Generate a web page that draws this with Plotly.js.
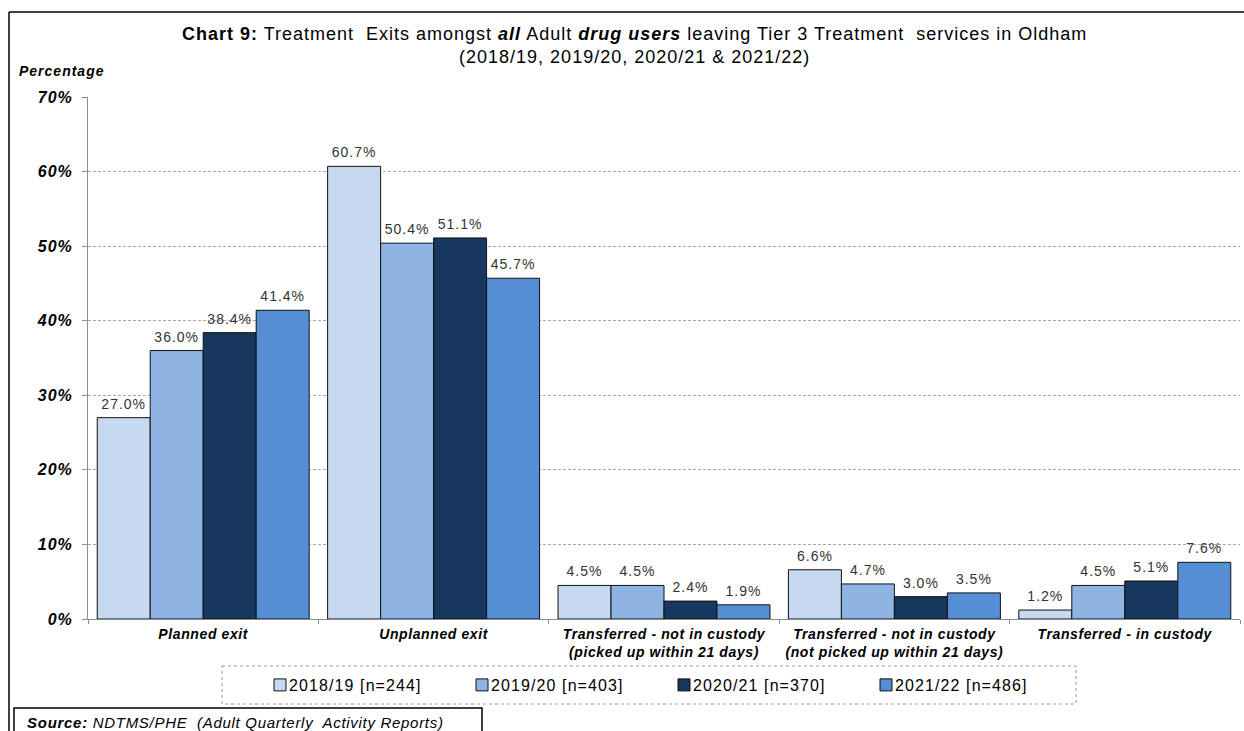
<!DOCTYPE html>
<html>
<head>
<meta charset="utf-8">
<script src="https://cdn.plot.ly/plotly-3.0.1.min.js"></script>
<style>
  html, body { margin: 0; padding: 0; background: #ffffff; overflow: hidden; }
  #chart { width: 1244px; height: 731px; }
  /* slightly wider letter spacing for the chart's text */
  .annotation-text { letter-spacing: 1px; }
  g.annotation[data-index="2"] .annotation-text { letter-spacing: 0.7px; }
  .legendtext { letter-spacing: 1.1px; }
  .ytick text { letter-spacing: 1px; }
  .xtick text { letter-spacing: 0.6px; }
  .bartext { letter-spacing: 1px; }
  .trace.bars g.point text { translate: 0px -3px; }
  /* legend swatches sit close to their labels */
  .legendpoints { translate: 11px 0; }
</style>
</head>
<body>
<div id="chart"></div>
<script>
// Exit reasons (x categories)
const categories = [
  "Planned exit",
  "Unplanned exit",
  "Transferred - not in custody<br>(picked up within 21 days)",
  "Transferred - not in custody<br>(not picked up within 21 days)",
  "Transferred - in custody"
];

// Percentage of adult drug users leaving treatment, by year
const seriesNames = ["2018/19 [n=244]", "2019/20 [n=403]", "2020/21 [n=370]", "2021/22 [n=486]"];
const values2018 = [27.0, 60.7, 4.5, 6.6, 1.2];
const values2019 = [36.0, 50.4, 4.5, 4.7, 4.5];
const values2020 = [38.4, 51.1, 2.4, 3.0, 5.1];
const values2021 = [41.4, 45.7, 1.9, 3.5, 7.6];
const seriesValues = [values2018, values2019, values2020, values2021];

const yTickValues = [0, 10, 20, 30, 40, 50, 60, 70];

const colors = ["#C6D9F1", "#8DB4E2", "#17375E", "#558ED5"];
const FONT = "Liberation Sans, Arial, sans-serif";

// Plot area in page pixels
const L = 88, R = 1240, T = 97, B = 619;
const px = x => (x - L) / (R - L);
const py = y => (B - y) / (B - T);

const traces = seriesValues.map((vals, i) => ({
  type: "bar",
  name: seriesNames[i],
  x: categories,
  y: vals,
  marker: { color: colors[i], line: { color: "#111111", width: 1 } },
  text: vals.map(v => v.toFixed(1) + "%"),
  textposition: "outside",
  textfont: { family: FONT, size: 14, color: "#333333" },
  cliponaxis: false,
  hoverinfo: "skip"
}));

const layout = {
  width: 1244,
  height: 731,
  paper_bgcolor: "#ffffff",
  plot_bgcolor: "#ffffff",
  margin: { l: L, r: 1244 - R, t: T, b: 731 - B, pad: 0, autoexpand: false },
  font: { family: FONT, color: "#000000" },
  barmode: "group",
  bargap: 0.08,
  bargroupgap: 0,
  showlegend: true,
  legend: {
    orientation: "h",
    x: px(249),
    xanchor: "left",
    y: py(685),
    yanchor: "middle",
    entrywidth: 157,
    entrywidthmode: "pixels",
    font: { family: FONT, size: 16, color: "#000000" },
    bgcolor: "rgba(0,0,0,0)",
    borderwidth: 0,
    traceorder: "normal"
  },
  xaxis: {
    type: "category",
    showgrid: false,
    showline: true,
    linecolor: "#8c8c8c",
    linewidth: 1,
    ticks: "outside",
    tickson: "boundaries",
    ticklen: 4,
    tickcolor: "#8c8c8c",
    ticklabelstandoff: 2,
    tickfont: { family: FONT, size: 14, weight: "bold", style: "italic", color: "#000000" },
    fixedrange: true
  },
  yaxis: {
    range: [0, 70],
    tickvals: yTickValues,
    ticktext: yTickValues.map(v => v + "%"),
    showgrid: true,
    gridcolor: "#a6a6a6",
    griddash: "3px,2px",
    gridwidth: 1,
    showline: true,
    linecolor: "#8c8c8c",
    linewidth: 1,
    ticks: "outside",
    ticklen: 5,
    tickcolor: "#8c8c8c",
    ticklabelstandoff: 6,
    zeroline: false,
    tickfont: { family: FONT, size: 16, weight: "bold", style: "italic", color: "#000000" },
    fixedrange: true
  },
  annotations: [
    {
      xref: "paper", yref: "paper",
      x: px(634), y: py(45), xanchor: "center", yanchor: "middle",
      text: "<b>Chart 9:</b> Treatment  Exits amongst <b><i>all</i></b> Adult <b><i>drug users</i></b> leaving Tier 3 Treatment  services in Oldham<br>(2018/19, 2019/20, 2020/21 &amp; 2021/22)",
      showarrow: false,
      align: "center",
      font: { family: FONT, size: 18, color: "#000000" }
    },
    {
      xref: "paper", yref: "paper",
      x: px(17), y: py(71), xanchor: "left", yanchor: "middle",
      text: "<b><i>Percentage</i></b>",
      showarrow: false,
      font: { family: FONT, size: 14, color: "#000000" }
    },
    {
      xref: "paper", yref: "paper",
      x: px(17), y: py(722), xanchor: "left", yanchor: "middle",
      text: "<b><i>Source:</i></b><i> NDTMS/PHE  (Adult Quarterly  Activity Reports)</i>",
      showarrow: false,
      font: { family: FONT, size: 15, color: "#000000" }
    }
  ],
  shapes: [
    // outer frame (top and left edges)
    { type: "line", xref: "paper", yref: "paper", x0: px(9), x1: px(1250), y0: py(12), y1: py(12), line: { color: "#000000", width: 1.5 } },
    { type: "line", xref: "paper", yref: "paper", x0: px(9), x1: px(9), y0: py(12), y1: py(740), line: { color: "#000000", width: 1.5 } },
    // dashed legend box
    { type: "rect", xref: "paper", yref: "paper", x0: px(222), x1: px(1076), y0: py(666), y1: py(704), line: { color: "#9a9a9a", width: 1, dash: "dot" }, fillcolor: "rgba(0,0,0,0)" },
    // source box
    { type: "rect", xref: "paper", yref: "paper", x0: px(14), x1: px(482), y0: py(708), y1: py(745), line: { color: "#000000", width: 1.5 }, fillcolor: "rgba(0,0,0,0)" }
  ]
};

Plotly.newPlot("chart", traces, layout, { displayModeBar: false, staticPlot: true });
</script>
</body>
</html>
